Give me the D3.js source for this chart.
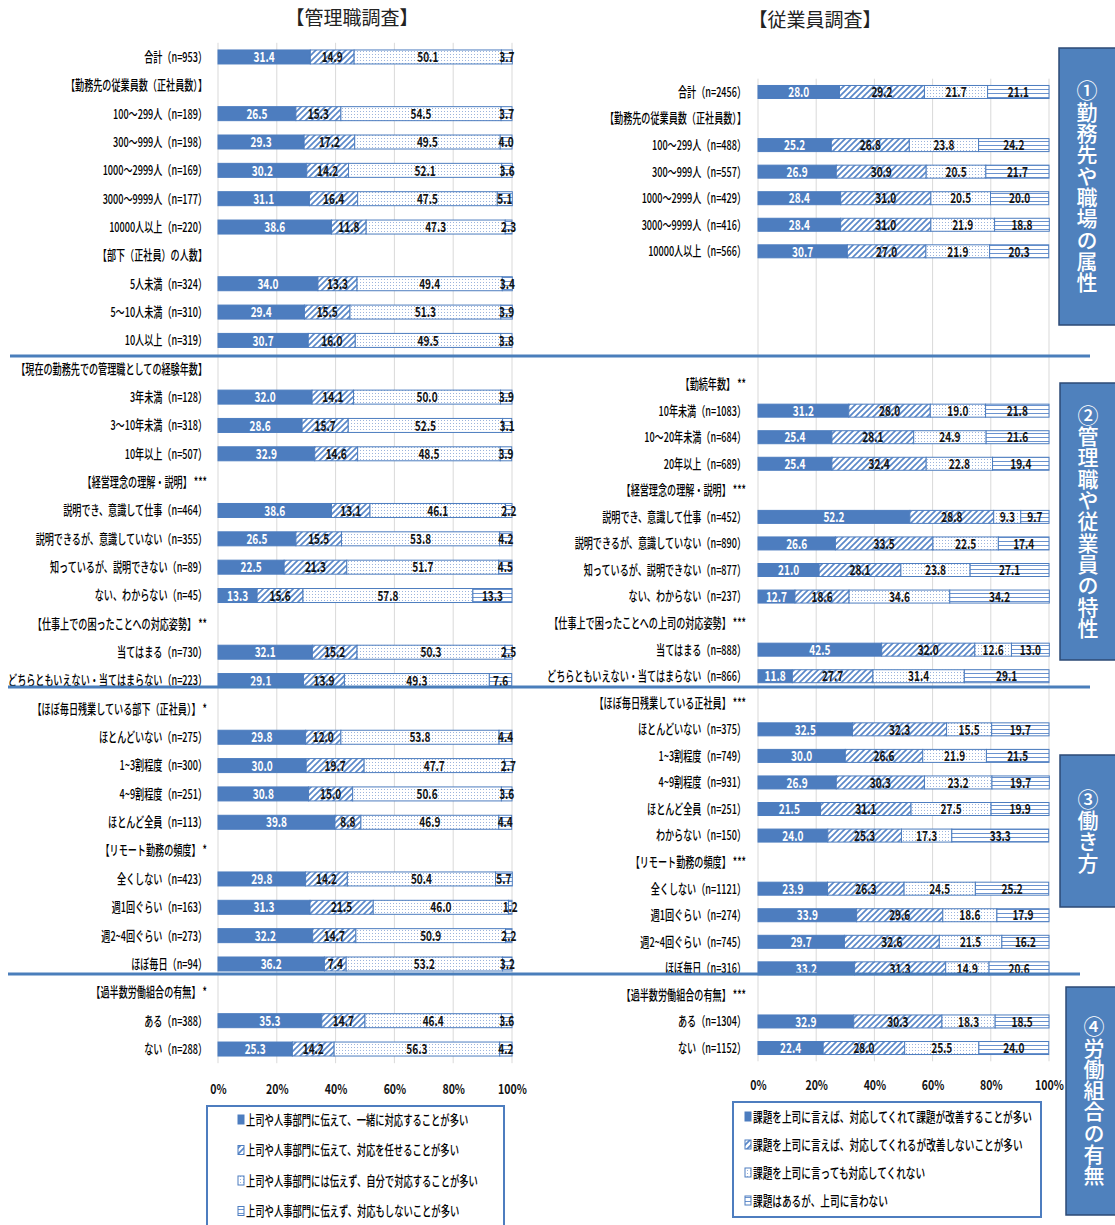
<!DOCTYPE html>
<html><head><meta charset="utf-8">
<script src="https://cdn.jsdelivr.net/npm/d3@7"></script>
<style>
body{margin:0;background:#fff;}
svg{display:block;font-family:"Noto Sans CJK JP","Noto Sans",sans-serif;}
</style></head><body>
<svg id="chart" width="1115" height="1225"></svg>
<script>
// ---- 管理職調査 ----
const mgrLabels = [
  "合計（n=953）", "【勤務先の従業員数（正社員数）】",
  "100～299人（n=189）", "300～999人（n=198）", "1000～2999人（n=169）", "3000～9999人（n=177）", "10000人以上（n=220）",
  "【部下（正社員）の人数】", "5人未満（n=324）", "5～10人未満（n=310）", "10人以上（n=319）",
  "【現在の勤務先での管理職としての経験年数】", "3年未満（n=128）", "3～10年未満（n=318）", "10年以上（n=507）",
  "【経営理念の理解・説明】 ***", "説明でき、意識して仕事（n=464）", "説明できるが、意識していない（n=355）", "知っているが、説明できない（n=89）", "ない、わからない（n=45）",
  "【仕事上での困ったことへの対応姿勢】 **", "当てはまる（n=730）", "どちらともいえない・当てはまらない（n=223）",
  "【ほぼ毎日残業している部下（正社員）】 *", "ほとんどいない（n=275）", "1~3割程度（n=300）", "4~9割程度（n=251）", "ほとんど全員（n=113）",
  "【リモート勤務の頻度】 *", "全くしない（n=423）", "週1回ぐらい（n=163）", "週2~4回ぐらい（n=273）", "ほぼ毎日（n=94）",
  "【過半数労働組合の有無】 *", "ある（n=388）", "ない（n=288）"
];
const mgrS1 = [31.4,null,26.5,29.3,30.2,31.1,38.6,null,34.0,29.4,30.7,null,32.0,28.6,32.9,null,38.6,26.5,22.5,13.3,null,32.1,29.1,null,29.8,30.0,30.8,39.8,null,29.8,31.3,32.2,36.2,null,35.3,25.3];
const mgrS2 = [14.9,null,15.3,17.2,14.2,16.4,11.8,null,13.3,15.5,16.0,null,14.1,15.7,14.6,null,13.1,15.5,21.3,15.6,null,15.2,13.9,null,12.0,19.7,15.0,8.8,null,14.2,21.5,14.7,7.4,null,14.7,14.2];
const mgrS3 = [50.1,null,54.5,49.5,52.1,47.5,47.3,null,49.4,51.3,49.5,null,50.0,52.5,48.5,null,46.1,53.8,51.7,57.8,null,50.3,49.3,null,53.8,47.7,50.6,46.9,null,50.4,46.0,50.9,53.2,null,46.4,56.3];
const mgrS4 = [3.7,null,3.7,4.0,3.6,5.1,2.3,null,3.4,3.9,3.8,null,3.9,3.1,3.9,null,2.2,4.2,4.5,13.3,null,2.5,7.6,null,4.4,2.7,3.6,4.4,null,5.7,1.2,2.2,3.2,null,3.6,4.2];
const mgrLegend = [
  "上司や人事部門に伝えて、一緒に対応することが多い",
  "上司や人事部門に伝えて、対応を任せることが多い",
  "上司や人事部門には伝えず、自分で対応することが多い",
  "上司や人事部門に伝えず、対応もしないことが多い"
];

// ---- 従業員調査 ----
const empLabels = [
  "合計（n=2456）", "【勤務先の従業員数（正社員数）】",
  "100～299人（n=488）", "300～999人（n=557）", "1000～2999人（n=429）", "3000～9999人（n=416）", "10000人以上（n=566）",
  "", "", "", "",
  "【勤続年数】 **", "10年未満（n=1083）", "10～20年未満（n=684）", "20年以上（n=689）",
  "【経営理念の理解・説明】 ***", "説明でき、意識して仕事（n=452）", "説明できるが、意識していない（n=890）", "知っているが、説明できない（n=877）", "ない、わからない（n=237）",
  "【仕事上で困ったことへの上司の対応姿勢】 ***", "当てはまる（n=888）", "どちらともいえない・当てはまらない（n=866）",
  "【ほぼ毎日残業している正社員】 ***", "ほとんどいない（n=375）", "1~3割程度（n=749）", "4~9割程度（n=931）", "ほとんど全員（n=251）", "わからない（n=150）",
  "【リモート勤務の頻度】 ***", "全くしない（n=1121）", "週1回ぐらい（n=274）", "週2~4回ぐらい（n=745）", "ほぼ毎日（n=316）",
  "【過半数労働組合の有無】 ***", "ある（n=1304）", "ない（n=1152）"
];
const empS1 = [28.0,null,25.2,26.9,28.4,28.4,30.7,null,null,null,null,null,31.2,25.4,25.4,null,52.2,26.6,21.0,12.7,null,42.5,11.8,null,32.5,30.0,26.9,21.5,24.0,null,23.9,33.9,29.7,33.2,null,32.9,22.4];
const empS2 = [29.2,null,26.8,30.9,31.0,31.0,27.0,null,null,null,null,null,28.0,28.1,32.4,null,28.8,33.5,28.1,18.6,null,32.0,27.7,null,32.3,26.6,30.3,31.1,25.3,null,26.3,29.6,32.6,31.3,null,30.3,28.0];
const empS3 = [21.7,null,23.8,20.5,20.5,21.9,21.9,null,null,null,null,null,19.0,24.9,22.8,null,9.3,22.5,23.8,34.6,null,12.6,31.4,null,15.5,21.9,23.2,27.5,17.3,null,24.5,18.6,21.5,14.9,null,18.3,25.5];
const empS4 = [21.1,null,24.2,21.7,20.0,18.8,20.3,null,null,null,null,null,21.8,21.6,19.4,null,9.7,17.4,27.1,34.2,null,13.0,29.1,null,19.7,21.5,19.7,19.9,33.3,null,25.2,17.9,16.2,20.6,null,18.5,24.0];
const empLegend = [
  "課題を上司に言えば、対応してくれて課題が改善することが多い",
  "課題を上司に言えば、対応してくれるが改善しないことが多い",
  "課題を上司に言っても対応してくれない",
  "課題はあるが、上司に言わない"
];

const tickValues = [0, 20, 40, 60, 80, 100];
const tickLabels = ["0%", "20%", "40%", "60%", "80%", "100%"];
const sideTitles = ["①勤務先や職場の属性", "②管理職や従業員の特性", "③働き方", "④労働組合の有無"];

const BLUE = "#4d7dbf";
const svg = d3.select("#chart");

// fill patterns for the four answer categories
const defs = svg.append("defs");
const pDiag = defs.append("pattern").attr("id", "pDiag").attr("patternUnits", "userSpaceOnUse")
  .attr("width", 6).attr("height", 6);
pDiag.append("rect").attr("width", 6).attr("height", 6).attr("fill", "#fff");
pDiag.append("path").attr("d", "M-1,7 L7,-1 M-4,4 L4,-4 M2,10 L10,2")
  .attr("stroke", "#5a88c9").attr("stroke-width", 1.7);
const pDot = defs.append("pattern").attr("id", "pDot").attr("patternUnits", "userSpaceOnUse")
  .attr("width", 3).attr("height", 3);
pDot.append("rect").attr("width", 3).attr("height", 3).attr("fill", "#fff");
pDot.append("rect").attr("width", 1).attr("height", 1).attr("fill", "#9cb4dc");
const pHor = defs.append("pattern").attr("id", "pHor").attr("patternUnits", "userSpaceOnUse")
  .attr("width", 4).attr("height", 4);
pHor.append("rect").attr("width", 4).attr("height", 4).attr("fill", "#fff");
pHor.append("rect").attr("y", 1).attr("width", 4).attr("height", 1).attr("fill", "#6b93cf");

const fills = [BLUE, "url(#pDiag)", "url(#pDot)", "url(#pHor)"];
const keys = ["s1", "s2", "s3", "s4"];

function drawChart(o) {
  const g = svg.append("g");
  const x = d3.scaleLinear().domain([0, 100]).range(o.xRange);
  const y = d3.scaleBand().domain(d3.range(o.labels.length)).range(o.yRange);

  // gridlines
  g.selectAll("line.grid").data(tickValues).join("line")
    .attr("x1", d => x(d)).attr("x2", d => x(d))
    .attr("y1", o.yRange[0]).attr("y2", o.yRange[1])
    .attr("stroke", "#d9d9d9").attr("stroke-width", 1);

  // category and section labels
  g.selectAll("g.lab").data(o.labels.map((l, i) => ({ l, i })).filter(d => d.l)).join("g")
    .attr("transform", d => `translate(${o.labelX},${y(d.i) + y.bandwidth() / 2})`)
    .append("text")
    .attr("transform", "scale(0.675,1)")
    .attr("text-anchor", "end").attr("dy", "0.36em")
    .attr("font-size", 13.5).attr("font-weight", 500).attr("fill", "#000")
    .text(d => d.l);

  // stacked bars
  const table = o.labels.map((l, i) => ({ i, s1: o.s[0][i], s2: o.s[1][i], s3: o.s[2][i], s4: o.s[3][i] }))
    .filter(d => d.s1 != null);
  const stacked = d3.stack().keys(keys)(table);
  const bh = o.barH;
  stacked.forEach((layer, k) => {
    g.selectAll(null).data(layer).join("rect")
      .attr("x", d => x(d[0]))
      .attr("y", d => y(d.data.i) + (y.bandwidth() - bh) / 2)
      .attr("width", d => x(d[1]) - x(d[0]))
      .attr("height", bh)
      .attr("fill", fills[k])
      .attr("stroke", BLUE).attr("stroke-width", 1);
  });
  stacked.forEach((layer, k) => {
    g.selectAll(null).data(layer).join("g")
      .attr("transform", d => `translate(${(x(d[0]) + x(d[1])) / 2},${y(d.data.i) + y.bandwidth() / 2})`)
      .append("text")
      .attr("transform", "scale(0.72,1)")
      .attr("text-anchor", "middle").attr("dy", "0.37em")
      .attr("font-size", 14).attr("font-weight", 700)
      .attr("fill", k === 0 ? "#fff" : "#111")
      .text(d => d3.format(".1f")(d.data[keys[k]]));
  });

  // percentage axis
  const axis = d3.axisBottom(x).tickValues(tickValues).tickSize(0).tickPadding(o.tickPad)
    .tickFormat((d, i) => tickLabels[i]);
  const ag = g.append("g").attr("transform", `translate(0,${o.yRange[1]})`).call(axis);
  ag.select(".domain").remove();
  ag.selectAll("text").attr("font-size", 13.5).attr("font-weight", 700).attr("fill", "#111")
    .attr("font-family", "'Noto Sans CJK JP',sans-serif").attr("transform", "scale(0.78,1)");

  // legend
  const lg = g.append("g");
  lg.append("rect").attr("x", o.legend.x).attr("y", o.legend.y)
    .attr("width", o.legend.w).attr("height", o.legend.h)
    .attr("fill", "#fff").attr("stroke", BLUE).attr("stroke-width", 2);
  o.legendText.forEach((t, k) => {
    const ly = o.legend.y + o.legend.first + k * o.legend.step;
    lg.append("rect").attr("x", o.legend.ix).attr("y", ly - 5).attr("width", 6).attr("height", 9)
      .attr("fill", fills[k]).attr("stroke", BLUE).attr("stroke-width", 1);
    lg.append("g").attr("transform", `translate(${o.legend.ix + 8},${ly})`)
      .append("text").attr("transform", "scale(0.69,1)").attr("dy", "0.36em")
      .attr("font-size", o.legend.fs).attr("font-weight", 500).attr("fill", "#000").text(t);
  });

  // title
  svg.append("text").attr("x", o.title.x).attr("y", o.title.y).attr("text-anchor", "middle")
    .attr("font-size", 19).attr("fill", "#222").text(o.title.t);
}

drawChart({
  labels: mgrLabels, s: [mgrS1, mgrS2, mgrS3, mgrS4],
  xRange: [218, 512], yRange: [42.8, 1063.2], labelX: 207, barH: 14, tickPad: 21,
  legendText: mgrLegend,
  legend: { x: 207, y: 1106, w: 297, h: 125, ix: 238, first: 14, step: 30.5, fs: 13.5 },
  title: { x: 352, y: 25, t: "【管理職調査】" }
});
drawChart({
  labels: empLabels, s: [empS1, empS2, empS3, empS4],
  xRange: [758, 1049], yRange: [78.7, 1061.3], labelX: 746, barH: 13, tickPad: 19,
  legendText: empLegend,
  legend: { x: 733, y: 1102, w: 308, h: 115, ix: 745, first: 15, step: 28, fs: 14 },
  title: { x: 815, y: 27, t: "【従業員調査】" }
});

// section dividers
const dividers = [[356, 10, 1090], [687, 8, 1090], [974, 8, 1080]];
svg.selectAll("line.div").data(dividers).join("line")
  .attr("x1", d => d[1]).attr("x2", d => d[2]).attr("y1", d => d[0]).attr("y2", d => d[0])
  .attr("stroke", "#4a7ebb").attr("stroke-width", 3);

// vertical section panels
const panels = [
  { x: 1059, y0: 48, y1: 325 },
  { x: 1060, y0: 383, y1: 660 },
  { x: 1060, y0: 755, y1: 907 },
  { x: 1066, y0: 987, y1: 1215 }
];
panels.forEach((p, k) => {
  svg.append("rect").attr("x", p.x).attr("y", p.y0).attr("width", 80).attr("height", p.y1 - p.y0)
    .attr("fill", "#4f81bd").attr("stroke", "#2c4a75").attr("stroke-width", 1.5);
  svg.append("text")
    .attr("x", p.x + 28).attr("y", (p.y0 + p.y1) / 2)
    .attr("text-anchor", "middle")
    .style("writing-mode", "vertical-rl")
    .attr("font-size", 21).attr("font-weight", 500).attr("fill", "#fff")
    .attr("letter-spacing", 0.3)
    .text(sideTitles[k]);
});
</script>
</body></html>
